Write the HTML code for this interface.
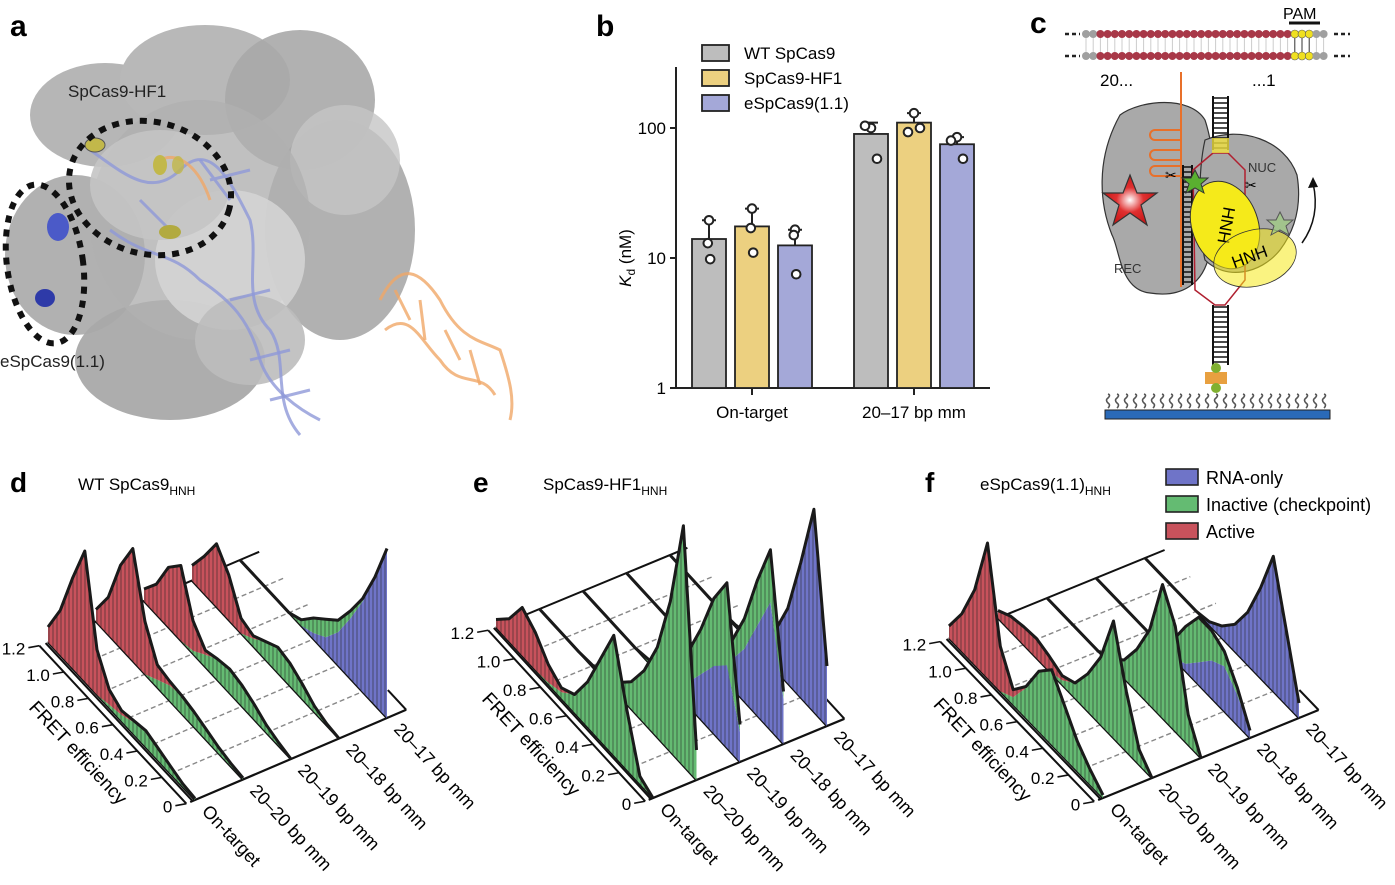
<!DOCTYPE html>
<html><head><meta charset="utf-8">
<style>
html,body{margin:0;padding:0;background:#fff;}
svg{display:block;font-family:"Liberation Sans",Arial,sans-serif;}
</style></head>
<body>
<svg id="fig" width="1395" height="885" viewBox="0 0 1395 885" xmlns="http://www.w3.org/2000/svg">
<defs>
<pattern id="hatch" width="4" height="10" patternUnits="userSpaceOnUse"><rect width="4" height="10" fill="none"/><line x1="1" y1="0" x2="1" y2="10" stroke="#222" stroke-opacity="0.55" stroke-width="1"/></pattern>
<radialGradient id="starGlow" cx="0.5" cy="0.5" r="0.5"><stop offset="0" stop-color="#fff"/><stop offset="0.5" stop-color="#e03030"/><stop offset="1" stop-color="#c81818"/></radialGradient>
</defs>

<!-- ================= PANEL A ================= -->
<g>
  <text x="10" y="36" font-size="30" font-weight="bold">a</text>
  <g fill="#a9a9a9">
    <ellipse cx="105" cy="115" rx="75" ry="52" opacity="0.85"/>
    <ellipse cx="205" cy="80" rx="85" ry="55" fill="#b8b8b8"/>
    <ellipse cx="300" cy="100" rx="75" ry="70" opacity="0.9"/>
    <ellipse cx="340" cy="230" rx="75" ry="110" opacity="0.9"/>
    <ellipse cx="345" cy="160" rx="55" ry="55" fill="#c6c6c6" opacity="0.8"/>
    <ellipse cx="75" cy="255" rx="70" ry="80" opacity="0.9"/>
    <ellipse cx="170" cy="360" rx="95" ry="60" opacity="0.95"/>
    <ellipse cx="200" cy="220" rx="110" ry="120" fill="#b0b0b0" opacity="0.8"/>
    <ellipse cx="230" cy="260" rx="75" ry="70" fill="#d4d4d4" opacity="0.9"/>
    <ellipse cx="160" cy="185" rx="70" ry="55" fill="#c4c4c4" opacity="0.9"/>
    <ellipse cx="250" cy="340" rx="55" ry="45" fill="#bdbdbd" opacity="0.9"/>
  </g>
  <g fill="none" stroke="#8e98d8" stroke-opacity="0.8" stroke-width="3">
    <path d="M90,150 C120,170 150,200 180,170 C210,140 230,180 250,220 C260,260 240,300 270,330 C290,360 270,400 300,435"/>
    <path d="M110,230 C150,260 170,250 200,280 C230,300 250,320 260,360 C270,390 300,410 320,420"/>
    <path d="M200,160 L230,200 M210,180 L250,170 M140,200 L170,230 M230,300 L270,290 M250,360 L290,350 M270,400 L310,390"/>
  </g>
  <g fill="none" stroke="#f0a868" stroke-width="3" stroke-opacity="0.8">
    <path d="M380,300 C400,260 420,270 440,300 C460,340 480,340 500,350 C510,380 515,400 510,420"/>
    <path d="M385,330 C410,310 420,340 440,360 C460,390 480,370 495,395"/>
    <path d="M395,290 L410,320 M420,300 L425,340 M445,330 L460,360 M470,350 L480,385"/>
    <path d="M160,160 C180,150 200,170 210,200" />
  </g>
  <g>
    <ellipse cx="95" cy="145" rx="10" ry="7" fill="#c2b84a" stroke="#555" stroke-width="1"/>
    <ellipse cx="160" cy="165" rx="7" ry="10" fill="#c2b84a"/>
    <ellipse cx="178" cy="165" rx="6" ry="9" fill="#c2b84a" opacity="0.8"/>
    <ellipse cx="170" cy="232" rx="11" ry="7" fill="#b2aa40"/>
    <ellipse cx="58" cy="227" rx="11" ry="14" fill="#4b5ac8"/>
    <ellipse cx="45" cy="298" rx="10" ry="9" fill="#2e3aa8"/>
  </g>
  <ellipse cx="150" cy="188" rx="82" ry="66" transform="rotate(15 150 188)" fill="none" stroke="#111" stroke-width="6" stroke-dasharray="7,7"/>
  <ellipse cx="45" cy="264" rx="38" ry="80" transform="rotate(-8 45 264)" fill="none" stroke="#111" stroke-width="6" stroke-dasharray="7,7"/>
  <text x="68" y="97" font-size="17" fill="#222">SpCas9-HF1</text>
  <text x="0" y="367" font-size="17" fill="#222">eSpCas9(1.1)</text>
</g>

<!-- ================= PANEL B ================= -->
<g id="panelB">
  <text x="596" y="36" font-size="30" font-weight="bold">b</text>
</g>

<!-- ================= PANEL C ================= -->
<g>
  <text x="1030" y="33" font-size="30" font-weight="bold">c</text>
  <g id="dnaTop"></g>
  <text x="1283" y="19" font-size="16">PAM</text>
  <line x1="1289" y1="23" x2="1320" y2="23" stroke="#111" stroke-width="3"/>
  <text x="1100" y="86" font-size="17">20...</text>
  <text x="1252" y="86" font-size="17">...1</text>
  <path d="M1120,115 C1140,100 1190,95 1205,120 C1215,150 1218,200 1210,250 C1205,285 1180,298 1150,293 C1120,290 1120,250 1112,235 C1100,205 1095,160 1120,115 Z" fill="#a9a9a9" stroke="#333" stroke-width="1.2"/>
  <path d="M1205,140 C1240,125 1285,140 1297,175 C1302,205 1295,230 1280,250 C1260,275 1225,280 1205,260 C1198,230 1198,170 1205,140 Z" fill="#a9a9a9" stroke="#333" stroke-width="1.2"/>
  <text x="1114" y="273" font-size="13" fill="#333">REC</text>
  <text x="1248" y="172" font-size="13" fill="#333">NUC</text>
  <line x1="1181" y1="72" x2="1181" y2="287" stroke="#e8702a" stroke-width="2"/>
  <g stroke="#e8702a" stroke-width="2" fill="none">
    <path d="M1181,130 H1155 M1181,140 H1155 M1155,130 a5,5 0 1,0 0,10"/>
    <path d="M1181,150 H1155 M1181,160 H1155 M1155,150 a5,5 0 1,0 0,10"/>
    <path d="M1181,166 H1155 M1181,176 H1155 M1155,166 a5,5 0 1,0 0,10"/>
  </g>
  <g id="ladders"></g>
  <path d="M1213,153 L1228,153 L1245,170 L1245,280 L1225,305 L1215,305 L1195,290 L1193,170 Z" fill="none" stroke="#b02030" stroke-width="1.5"/>
  <rect x="1212" y="138" width="17" height="15" fill="#f0e040" opacity="0.8"/>
  <ellipse cx="1225" cy="225" rx="33" ry="45" transform="rotate(-20 1225 225)" fill="#f5ea1a" stroke="#333" stroke-width="1"/>
  <text x="1225" y="225" font-size="17" text-anchor="middle" transform="rotate(100 1225 225)" dominant-baseline="middle">HNH</text>
  <ellipse cx="1255" cy="258" rx="42" ry="28" transform="rotate(-15 1255 258)" fill="#f5ea1a" fill-opacity="0.55" stroke="#333" stroke-width="0.8"/>
  <text x="1250" y="258" font-size="17" text-anchor="middle" transform="rotate(-20 1250 258)" dominant-baseline="middle">HNH</text>
  <polygon points="1130,175 1137,193 1157,193 1141,205 1147,225 1130,213 1113,225 1119,205 1103,193 1123,193" fill="url(#starGlow)" stroke="#333" stroke-width="1.2"/>
  <polygon points="1195,170 1199,178 1208,178 1201,184 1204,193 1195,188 1186,193 1189,184 1182,178 1191,178" fill="#5ab030" stroke="#333"/>
  <polygon points="1280,212 1284,220 1293,220 1286,226 1289,235 1280,230 1271,235 1274,226 1267,220 1276,220" fill="#9fd080" fill-opacity="0.7" stroke="#555"/>
  <path d="M1302,243 C1315,225 1318,205 1313,183" fill="none" stroke="#111" stroke-width="1.5"/>
  <polygon points="1313,177 1308,188 1318,187" fill="#111"/>
  <text x="1165" y="180" font-size="14">✂</text>
  <text x="1245" y="190" font-size="14">✂</text>
  <rect x="1205" y="372" width="22" height="12" fill="#e8a040"/>
  <circle cx="1216" cy="368" r="5" fill="#80b030"/>
  <circle cx="1216" cy="388" r="5" fill="#80b030"/>
  <g id="peg"></g>
  <rect x="1105" y="410" width="225" height="9" fill="#2a6ab8" stroke="#222" stroke-width="1"/>
</g>

<!-- ================= PANELS D/E/F ================= -->
<g id="panelsDEF"></g>
</svg>

<script>
// ---------- Panel B data ----------
const bCategories = ["On-target", "20\u201317 bp mm"];
const bSeries = ["WT SpCas9", "SpCas9-HF1", "eSpCas9(1.1)"];
const bColors = ["#bdbdbd", "#ecd080", "#a4a8d8"];
const bValues = [[14, 17.5, 12.5], [90, 110, 75]];
const bErrTop = [[19.5, 24, 16.5], [110, 130, 85]];
const bPoints = [[[19.5, 13, 9.8], [24, 17, 11], [16.5, 15, 7.5]],
                 [[100, 104, 58], [130, 93, 100], [85, 80, 58]]];
const bTicks = [1, 10, 100];
const bTickLabels = ["1", "10", "100"];

// ---------- Panels D/E/F data (FRET bins 0,0.1,...,1.2; normalized counts) ----------
const fretTicks = [0, 0.2, 0.4, 0.6, 0.8, 1.0, 1.2];
const fretTickLabels = ["0", "0.2", "0.4", "0.6", "0.8", "1.0", "1.2"];
const conditions = ["On-target", "20\u201320 bp mm", "20\u201319 bp mm", "20\u201318 bp mm", "20\u201317 bp mm"];
const dRed = [
 [0,0,0,0,0,0.01,0.03,0.1,0.3,0.87,0.6,0.3,0.1],
 [0,0,0,0,0,0,0.03,0.1,0.35,0.75,0.55,0.25,0.08],
 [0,0,0,0,0,0,0,0.03,0.2,0.5,0.4,0.2,0.08],
 [0,0,0,0,0,0,0,0.02,0.1,0.3,0.42,0.25,0.1],
 [0,0,0,0,0,0,0,0,0,0,0,0,0]];
const dGreen = [
 [0.01,0.02,0.05,0.08,0.11,0.08,0.04,0.02,0,0,0,0,0],
 [0.01,0.02,0.04,0.07,0.1,0.12,0.1,0.05,0,0,0,0,0],
 [0,0.02,0.05,0.1,0.14,0.16,0.14,0.08,0.02,0,0,0,0],
 [0,0.01,0.04,0.1,0.15,0.17,0.12,0.05,0,0,0,0,0],
 [0,0,0.02,0.05,0.08,0.12,0.1,0.04,0,0,0,0,0]];
const dBlue = [
 [0,0,0,0,0,0,0,0,0,0,0,0,0],
 [0,0,0,0,0,0,0,0,0,0,0,0,0],
 [0,0,0,0,0,0,0,0,0,0,0,0,0],
 [0,0,0,0,0,0,0,0,0,0,0,0,0],
 [1.13,0.85,0.6,0.4,0.22,0.1,0.04,0,0,0,0,0,0]];
const eRed = [
 [0,0,0,0,0,0,0,0.03,0.12,0.25,0.32,0.15,0.05],
 [0,0,0,0,0,0,0,0,0,0,0,0,0],
 [0,0,0,0,0,0,0,0,0,0,0,0,0],
 [0,0,0,0,0,0,0,0,0,0,0,0,0],
 [0,0,0,0,0,0,0,0,0,0,0,0,0]];
const eGreen = [
 [0,0.05,0.4,0.8,0.55,0.3,0.12,0.04,0.01,0,0,0,0],
 [0.2,1.6,1.0,0.6,0.35,0.18,0.08,0.03,0.01,0,0,0,0],
 [0.05,0.55,0.45,0.3,0.2,0.1,0.05,0.02,0,0,0,0,0],
 [0.05,0.35,0.3,0.2,0.12,0.05,0.02,0,0,0,0,0,0],
 [0,0,0,0,0,0,0,0,0,0,0,0,0]];
const eBlue = [
 [0,0,0,0,0,0,0,0,0,0,0,0,0],
 [0,0,0,0,0,0,0,0,0,0,0,0,0],
 [0.2,0.55,0.45,0.3,0.15,0.06,0.02,0,0,0,0,0,0],
 [0.3,0.85,0.6,0.35,0.18,0.08,0.03,0,0,0,0,0,0],
 [0.4,1.35,0.9,0.5,0.25,0.1,0.04,0.01,0,0,0,0,0]];
const fRed = [
 [0,0,0,0,0,0,0.01,0.05,0.3,0.9,0.5,0.25,0.08],
 [0,0,0,0,0,0,0,0.03,0.1,0.13,0.12,0.1,0.05],
 [0,0,0,0,0,0,0,0,0,0,0,0,0],
 [0,0,0,0,0,0,0,0,0,0,0,0,0],
 [0,0,0,0,0,0,0,0,0,0,0,0,0]];
const fGreen = [
 [0.02,0.1,0.2,0.35,0.5,0.4,0.2,0.05,0,0,0,0,0],
 [0,0.1,0.4,0.78,0.45,0.25,0.1,0.03,0,0,0,0,0],
 [0,0.2,0.7,0.89,0.5,0.28,0.12,0.04,0,0,0,0,0],
 [0,0.05,0.1,0.2,0.3,0.25,0.12,0.03,0,0,0,0,0],
 [0,0,0,0,0,0,0,0,0,0,0,0,0]];
const fBlue = [
 [0,0,0,0,0,0,0,0,0,0,0,0,0],
 [0,0,0,0,0,0,0,0,0,0,0,0,0],
 [0,0,0,0,0,0,0,0,0,0,0,0,0],
 [0.05,0.2,0.3,0.25,0.15,0.05,0,0,0,0,0,0,0],
 [0.1,0.5,0.9,0.6,0.35,0.18,0.08,0.02,0,0,0,0,0]];
const legendLabels = ["RNA-only", "Inactive (checkpoint)", "Active"];

const NS = "http://www.w3.org/2000/svg";
function mk(tag, attrs, parent) {
  const el = document.createElementNS(NS, tag);
  for (const k in attrs) el.setAttribute(k, attrs[k]);
  parent.appendChild(el);
  return el;
}

// ---------- Panel B ----------
(function () {
  const g = document.getElementById("panelB");
  const y0 = 388, dec = 130;
  const yS = v => y0 - Math.log10(v) * dec;
  const groupX = [692, 854];
  const barW = 34, barGap = 43;
  const ax = mk("path", { d: "M676,67 V388 H990", fill: "none", stroke: "#222", "stroke-width": 2 }, g);
  
  
  bTicks.forEach((t, i) => {
    const tk = mk("line", { x1: 670, x2: 676, y1: yS(t), y2: yS(t), stroke: "#222", "stroke-width": 2 }, g);
    
    
    const tl = mk("text", { x: 666, y: yS(t) + 6, "font-size": 17, "text-anchor": "end" }, g);
    tl.textContent = bTickLabels[i];
    
    
  });
  const yt = mk("text", { x: 0, y: 0, "font-size": 17, transform: "translate(631,258) rotate(-90)", "text-anchor": "middle" }, g);
  yt.innerHTML = '<tspan font-style="italic">K</tspan><tspan font-size="12" dy="4">d</tspan><tspan dy="-4"> (nM)</tspan>';
  
  
  const dx = [[0, -1, 1], [0, -1, 1]];
  bCategories.forEach((c, ci) => {
    const cx = groupX[ci] + barGap + barW / 2;
    const tk = mk("line", { x1: cx, x2: cx, y1: 388, y2: 395, stroke: "#222", "stroke-width": 2 }, g);
    
    
    const tl = mk("text", { x: cx, y: 418, "font-size": 17, "text-anchor": "middle" }, g);
    tl.textContent = c;
    
    
    bSeries.forEach((s, si) => {
      const x = groupX[ci] + si * barGap;
      const v = bValues[ci][si];
      const mid = x + barW / 2;
      const eb = mk("path", { d: `M${mid},${yS(v)} V${yS(bErrTop[ci][si])} M${mid - 7},${yS(bErrTop[ci][si])} H${mid + 7}`, stroke: "#222", "stroke-width": 2, fill: "none" }, g);
      
      
      const r = mk("rect", { x: x, y: yS(v), width: barW, height: y0 - yS(v), fill: bColors[si], stroke: "#222", "stroke-width": 1.8 }, g);
      
      
      bPoints[ci][si].forEach((p, pi) => {
        const c2 = mk("circle", { cx: mid + [0, -4, 4][pi] * (ci === 1 ? 1.5 : 0.3), cy: yS(p), r: 4.3, fill: "#fff", stroke: "#222", "stroke-width": 2 }, g);
        
        
      });
    });
  });
  bSeries.forEach((s, si) => {
    const lr = mk("rect", { x: 702, y: 45 + si * 25, width: 27, height: 16, fill: bColors[si], stroke: "#222", "stroke-width": 1.8 }, g);
    
    
    const lt = mk("text", { x: 744, y: 59 + si * 25, "font-size": 17 }, g);
    lt.textContent = s;
    
    
  });
})();

// ---------- Panel C decorations ----------
(function () {
  const g = document.getElementById("dnaTop");
  const xs0 = 1086, step = 7.2, n = 34;
  mk("path", { d: "M1065,34 H1080 M1065,56 H1080 M1334,34 H1350 M1334,56 H1350", stroke: "#222", "stroke-width": 2.5, "stroke-dasharray": "4,3" }, g);
  for (let i = 0; i < n; i++) {
    const x = xs0 + i * step;
    const col = i < 2 || i > 31 ? "#a0a0a0" : (i >= 29 ? "#f0e020" : "#a83848");
    mk("line", { x1: x, x2: x, y1: 34, y2: 56, stroke: i >= 29 && i <= 31 ? "#333" : "#ccc", "stroke-width": 1 }, g);
    mk("circle", { cx: x, cy: 34, r: 4, fill: col, stroke: col === "#f0e020" ? "#555" : "none", "stroke-width": 0.6 }, g);
    mk("circle", { cx: x, cy: 56, r: 4, fill: col, stroke: col === "#f0e020" ? "#555" : "none", "stroke-width": 0.6 }, g);
  }
  const L = document.getElementById("ladders");
  function ladder(x1, x2, ya, yb) {
    mk("path", { d: `M${x1},${ya} V${yb} M${x2},${ya} V${yb}`, stroke: "#111", "stroke-width": 2 }, L);
    for (let y = ya + 2; y < yb; y += 5) mk("line", { x1: x1, x2: x2, y1: y, y2: y, stroke: "#111", "stroke-width": 1.5 }, L);
  }
  ladder(1213, 1228, 96, 150);
  ladder(1213, 1228, 305, 365);
  ladder(1183, 1192, 165, 285);
  const P = document.getElementById("peg");
  for (let x = 1108; x < 1328; x += 9) {
    mk("path", { d: `M${x},408 q3,-3 0,-5 q-3,-3 0,-5 q3,-3 0,-4`, fill: "none", stroke: "#555", "stroke-width": 1.6 }, P);
  }
})();

// ---------- Panels D/E/F ----------
const panels = [
  { key: "d", letterX: 10, title: "WT SpCas9", titleX: 78, O: [195, 800], T: [48, -20.5], F: [-147, -158], red: dRed, green: dGreen, blue: dBlue },
  { key: "e", letterX: 473, title: "SpCas9-HF1", titleX: 543, O: [653, 798], T: [43.5, -18], F: [-157, -171], red: eRed, green: eGreen, blue: eBlue },
  { key: "f", letterX: 925, title: "eSpCas9(1.1)", titleX: 980, O: [1103, 798], T: [49, -20], F: [-154, -160], red: fRed, green: fGreen, blue: fBlue }
];
const HSCALE = 150, BINSTEP = 0.1;
const root = document.getElementById("panelsDEF");
panels.forEach(p => {
  const g = mk("g", {}, root);
  
  
  const pt = (i, f, h) => [p.O[0] + i * p.T[0] + f / 1.2 * p.F[0], p.O[1] + i * p.T[1] + f / 1.2 * p.F[1] - h * HSCALE];
  const ps = a => a[0].toFixed(1) + "," + a[1].toFixed(1);
  const L = mk("text", { x: p.letterX, y: 492, "font-size": 28, "font-weight": "bold" }, g);
  L.textContent = p.key;
  
  
  const T = mk("text", { x: p.titleX, y: 490, "font-size": 17 }, g);
  T.innerHTML = p.title + '<tspan font-size="12" dy="5">HNH</tspan>';
  
  
  fretTicks.forEach((f, k) => {
    if (f === 0) return;
    const a = pt(0, f, 0), b = pt(4.4, f, 0);
    const gl = mk("line", { x1: a[0], y1: a[1], x2: b[0], y2: b[1], stroke: f === 1.2 ? "#111" : "#888", "stroke-width": f === 1.2 ? 2 : 1.4, "stroke-dasharray": f === 1.2 ? "none" : "5,3" }, g);
    
    
  });
  {
    const a = pt(-0.1, 0, 0), b = pt(4.4, 0, 0);
    const fl = mk("line", { x1: a[0], y1: a[1], x2: b[0], y2: b[1], stroke: "#111", "stroke-width": 2.2 }, g);
    
    
    const c = pt(4.4, 0, 0), d = pt(4.4, 0.15, 0);
    mk("line", { x1: c[0], y1: c[1], x2: d[0], y2: d[1], stroke: "#111", "stroke-width": 2 }, g);
  }
  [-0.18, -0.05].forEach(off => {
    const a = pt(off, 0, 0), b = pt(off, 1.2, 0);
    const al = mk("line", { x1: a[0], y1: a[1], x2: b[0], y2: b[1], stroke: "#111", "stroke-width": 2 }, g);
    
    
  });
  fretTicks.forEach((f, k) => {
    const a = pt(-0.18, f, 0);
    const tk = mk("line", { x1: a[0] - 11, y1: a[1] + 2, x2: a[0], y2: a[1], stroke: "#111", "stroke-width": 1.6 }, g);
    
    
    const tl = mk("text", { x: a[0] - 14, y: a[1] + 9, "font-size": 17, "text-anchor": "end" }, g);
    tl.textContent = fretTickLabels[k];
    
    
  });
  {
    const c = pt(0, 0.6, 0);
    const at = mk("text", { x: 0, y: 0, "font-size": 19, "text-anchor": "middle", transform: `translate(${c[0] - 48},${c[1] + 36}) rotate(47)` }, g);
    at.textContent = "FRET efficiency";
    
    
  }
  conditions.forEach((c, i) => {
    const a = pt(i, 0, 0);
    const cl = mk("text", { x: 0, y: 0, "font-size": 18, transform: `translate(${a[0] + 6},${a[1] + 12}) rotate(47)` }, g);
    cl.textContent = c;
    
    
  });
  for (let i = 4; i >= 0; i--) {
    const tg = mk("g", {}, g);
    
    
    const nb = p.red[i].length;
    const lay = [p.blue[i], p.green[i], p.red[i]];
    const cols = ["#6f74c8", "#64bb72", "#c8525c"];
    const cum = new Array(nb).fill(0);
    const b0 = pt(i, 0, 0), b1 = pt(i, 1.2, 0);
    const bl = mk("line", { x1: b0[0], y1: b0[1], x2: b1[0], y2: b1[1], stroke: "#111", "stroke-width": 2.5 }, tg);
    
    
    lay.forEach((arr, li) => {
      const lower = cum.slice();
      for (let k = 0; k < nb; k++) cum[k] += arr[k];
      if (arr.every(v => v === 0)) return;
      let d = "M";
      for (let k = 0; k < nb; k++) d += ps(pt(i, k * BINSTEP, cum[k])) + " L";
      for (let k = nb - 1; k >= 0; k--) d += ps(pt(i, k * BINSTEP, lower[k])) + (k ? " L" : " Z");
      const ar = mk("path", { d: d, fill: cols[li], stroke: "none" }, tg);
      
      
      const ht = mk("path", { d: d, fill: "url(#hatch)", stroke: "none" }, tg);
      
      
    });
    let d = "M";
    for (let k = 0; k < nb; k++) d += ps(pt(i, k * BINSTEP, cum[k])) + (k < nb - 1 ? " L" : "");
    const ol = mk("path", { d: d, fill: "none", stroke: "#1a1a1a", "stroke-width": 3, "stroke-linejoin": "round" }, tg);
    
    
  }
});
(function () {
  const cols = ["#6f74c8", "#64bb72", "#c8525c"];
  legendLabels.forEach((l, i) => {
    const r = mk("rect", { x: 1166, y: 469 + i * 27, width: 32, height: 16, fill: cols[i], stroke: "#222", "stroke-width": 1.6 }, root);
    
    
    const t = mk("text", { x: 1206, y: 484 + i * 27, "font-size": 18 }, root);
    t.textContent = l;
    
    
  });
})();
</script>
</body></html>
